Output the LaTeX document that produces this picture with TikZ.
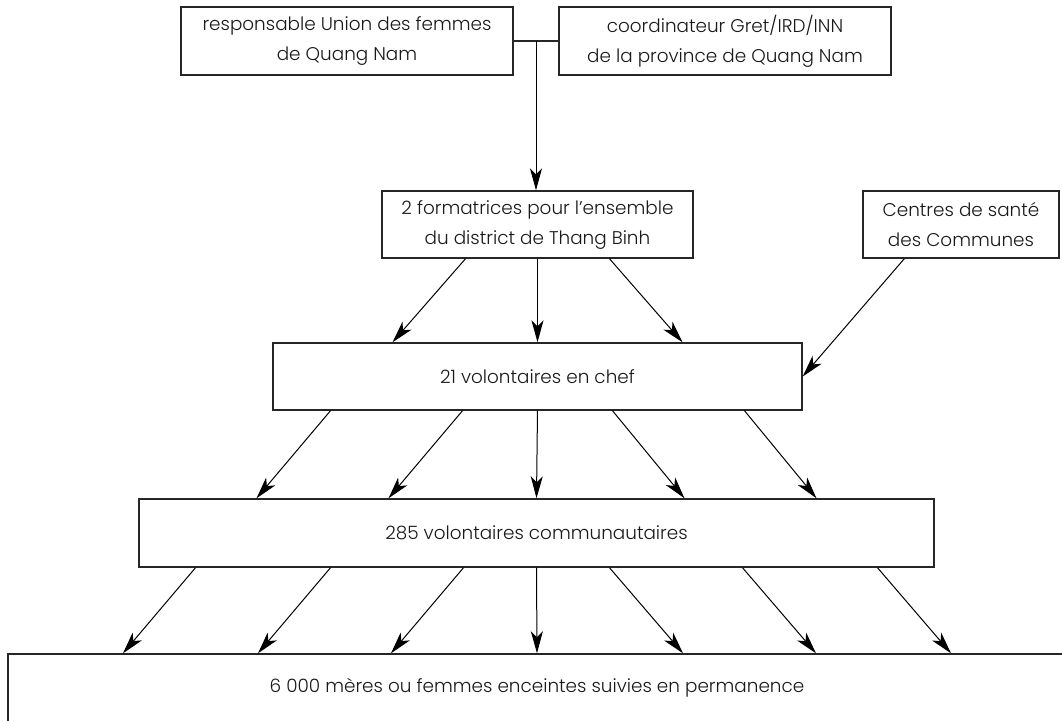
\documentclass[tikz,border=0pt]{standalone}
\usepackage{fontspec}
\setmainfont{Poppins}[UprightFont={* Light}]
\usetikzlibrary{arrows.meta,calc}

% one unit = 0.5pt, so box sizes below are given in pt (half the unit count)
\tikzset{
  box/.style={draw=black!85, line width=0.7pt, inner sep=0pt, align=center,
    font=\fontsize{9.2}{15}\selectfont, text=black!90},
  arr/.style={draw=black, line width=0.5pt,
    -{Stealth[length=11pt,width=6pt,inset=3pt]}},
  link/.style={draw=black!85, line width=0.6pt}
}

\begin{document}
\begin{tikzpicture}[x=0.5pt,y=-0.5pt]
  \useasboundingbox (0,0) rectangle (1062,720);
  \clip (0,0) rectangle (1062,720);

  % top level: the two coordinators
  \node[box, minimum width=166pt, minimum height=34pt] (resp) at (347,41)
    {responsable Union des femmes\\de Quang Nam};
  \node[box, minimum width=166pt, minimum height=34pt] (coord) at (725,41)
    {coordinateur Gret/IRD/INN\\de la province de Quang Nam};

  % trainers and health centres
  \node[box, minimum width=155.5pt, minimum height=33.5pt] (form) at (537.5,224.5)
    {2 formatrices pour l'ensemble\\du district de Thang Binh};
  \node[box, minimum width=98pt, minimum height=33.5pt] (cds) at (961,224.5)
    {Centres de santé\\des Communes};

  % volunteers
  \node[box, minimum width=264.5pt, minimum height=33.5pt] (chef) at (537.5,376.5)
    {21 volontaires en chef};
  \node[box, minimum width=397.5pt, minimum height=34pt] (comm) at (536.5,533)
    {285 volontaires communautaires};

  % beneficiaries (box runs off the page on the right and bottom)
  \node[box, minimum width=529pt, minimum height=34pt] (meres) at (537,688)
    {6 000 mères ou femmes enceintes suivies en permanence};

  % joining line between the two top boxes and the arrow down
  \coordinate (join) at ($(resp.east)!0.5!(coord.west)$);
  \draw[link] (resp.east) -- (coord.west);
  \draw[arr] (join) -- (join |- form.north);

  % trainers -> head volunteers
  \foreach \a/\b in {-72/-145, 0/0, 72/145}
    \draw[arr] ($(form.south)+(\a,0)$) -- ($(chef.north)+(\b,0)$);

  % health centres -> head volunteers
  \draw[arr] ($(cds.south west)+(42,0)$) -- (chef.east);

  % head volunteers -> community volunteers
  \foreach \a/\b in {-207/-280, -75/-148, 0/0, 75/148, 207/280}
    \draw[arr] ($(chef.south)+(\a,0)$) -- ($(comm.north)+(\b,0)$);

  % community volunteers -> mothers
  \foreach \a/\b in {-341/-414, -206/-279, -73/-146, 0/0, 73/146, 206/279, 341/414}
    \draw[arr] ($(comm.south)+(\a,0)$) -- ($(meres.north)+(\b,0)$);
\end{tikzpicture}
\end{document}
